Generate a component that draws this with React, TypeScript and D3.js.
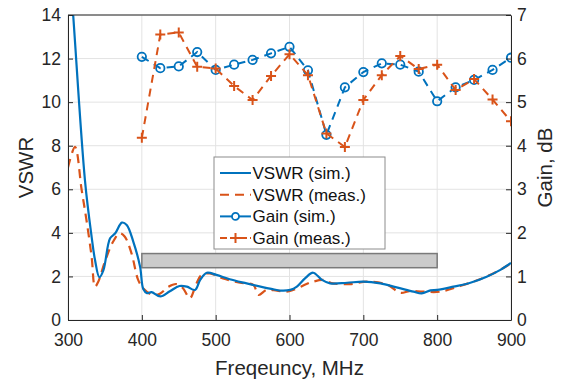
import React, { useEffect, useRef } from 'react';
import * as d3 from 'd3';

// VSWR (sim.)
const vswrSimFreq = [300, 307, 323, 332, 336.6, 342.5, 348, 357, 364, 373, 379.5, 388.5, 397.6, 402, 407, 413, 425, 438, 451, 461, 472, 479, 488, 501, 519, 542, 565, 578, 587, 601, 610, 621, 632, 644, 655, 678, 700, 723, 745, 768, 779, 791, 800, 822, 845, 867, 885, 900];
const vswrSimVal = [17.3, 14, 6.4, 3.82, 2.75, 1.96, 2.29, 3.75, 3.98, 4.47, 4.36, 3.59, 2.45, 1.42, 1.23, 1.28, 1.08, 1.32, 1.56, 1.53, 1.38, 1.84, 2.17, 2.07, 1.87, 1.68, 1.5, 1.41, 1.35, 1.38, 1.53, 1.91, 2.17, 1.84, 1.68, 1.71, 1.76, 1.68, 1.5, 1.3, 1.22, 1.36, 1.38, 1.53, 1.71, 1.99, 2.29, 2.62];

// VSWR (meas.)
const vswrMeasFreq = [300, 309.5, 318.5, 325, 332, 336.6, 341, 350, 361, 370, 377, 386, 395, 402, 415, 425, 436, 447, 456, 465, 474, 481, 492, 510, 533, 551, 558, 569, 583, 596, 610, 623, 632, 646, 659, 682, 705, 732, 750, 763, 781, 804, 831, 858, 881, 900];
const vswrMeasVal = [7.0, 7.95, 5.97, 4.59, 2.9, 1.53, 1.76, 2.68, 3.59, 3.98, 3.82, 3.06, 1.84, 1.45, 1.15, 1.22, 1.53, 1.65, 1.45, 1.0, 1.68, 2.07, 2.14, 1.91, 1.71, 1.61, 1.15, 1.38, 1.35, 1.3, 1.45, 1.65, 1.76, 1.84, 1.68, 1.65, 1.76, 1.63, 1.25, 1.33, 1.3, 1.3, 1.56, 1.87, 2.22, 2.6];

// Gain, dB
const gainFreq = [400, 425, 450, 475, 500, 525, 550, 575, 600, 625, 650, 675, 700, 725, 750, 775, 800, 825, 850, 875, 900];
const gainSim = [6.04, 5.78, 5.82, 6.15, 5.74, 5.86, 5.97, 6.12, 6.27, 5.73, 4.25, 5.34, 5.69, 5.89, 5.86, 5.70, 5.02, 5.34, 5.51, 5.74, 6.02];
const gainMeas = [4.18, 6.55, 6.6, 5.81, 5.77, 5.37, 5.05, 5.6, 6.1, 5.62, 4.28, 3.97, 5.05, 5.62, 6.06, 5.76, 5.86, 5.28, 5.53, 5.06, 4.56];

// grey band (frequency span, VSWR span)
const bandFreq = [400, 800];
const bandVswr = [2.4, 3.05];

const xTicks = [300, 400, 500, 600, 700, 800, 900];
const yLeftTicks = [0, 2, 4, 6, 8, 10, 12, 14];
const yRightTicks = [0, 1, 2, 3, 4, 5, 6, 7];

const legendLabels = ['VSWR (sim.)', 'VSWR (meas.)', 'Gain (sim.)', 'Gain (meas.)'];

const BLUE = '#0072BD';
const ORANGE = '#D95319';
const FONT = '"Liberation Sans", Arial, Helvetica, sans-serif';

const App: React.FC = () => {
    const svgRef = useRef<SVGSVGElement>(null);
    const W = 564, H = 381;
    const margin = { top: 15, right: 53, bottom: 61, left: 68 };

    useEffect(() => {
        if (!svgRef.current) return;
        const svg = d3.select(svgRef.current);
        svg.selectAll('*').remove();

        const width = W - margin.left - margin.right;
        const height = H - margin.top - margin.bottom;

        const x = d3.scaleLinear().domain([300, 900]).range([0, width]);
        const yL = d3.scaleLinear().domain([0, 14]).range([height, 0]);
        const yR = d3.scaleLinear().domain([0, 7]).range([height, 0]);

        svg.append('rect').attr('width', W).attr('height', H).attr('fill', '#fff');

        svg.append('defs').append('clipPath').attr('id', 'plotClip')
            .append('rect').attr('width', width).attr('height', height);

        const g = svg.append('g').attr('transform', `translate(${margin.left},${margin.top})`);

        // grid
        const grid = g.append('g').attr('stroke', '#e3e3e3').attr('stroke-width', 1);
        xTicks.forEach(t => grid.append('line').attr('x1', x(t)).attr('x2', x(t)).attr('y1', 0).attr('y2', height));
        yLeftTicks.forEach(t => grid.append('line').attr('x1', 0).attr('x2', width).attr('y1', yL(t)).attr('y2', yL(t)));

        const plot = g.append('g').attr('clip-path', 'url(#plotClip)');

        // band
        plot.append('rect')
            .attr('x', x(bandFreq[0]))
            .attr('width', x(bandFreq[1]) - x(bandFreq[0]))
            .attr('y', yL(bandVswr[1]))
            .attr('height', yL(bandVswr[0]) - yL(bandVswr[1]))
            .attr('fill', '#cbcbcb')
            .attr('stroke', '#7a7a7a')
            .attr('stroke-width', 1.5);

        const smooth = d3.line<[number, number]>()
            .x(d => x(d[0]))
            .y(d => yL(d[1]))
            .curve(d3.curveCatmullRom.alpha(0.5));

        const simPts = vswrSimFreq.map((f, i) => [f, vswrSimVal[i]] as [number, number]);
        const measPts = vswrMeasFreq.map((f, i) => [f, vswrMeasVal[i]] as [number, number]);

        plot.append('path').attr('d', smooth(measPts)!)
            .attr('fill', 'none').attr('stroke', ORANGE).attr('stroke-width', 2.2)
            .attr('stroke-dasharray', '9,6');
        plot.append('path').attr('d', smooth(simPts)!)
            .attr('fill', 'none').attr('stroke', BLUE).attr('stroke-width', 2.2);

        // gain lines
        const gainLine = d3.line<[number, number]>().x(d => x(d[0])).y(d => yR(d[1]));
        const gSimPts = gainFreq.map((f, i) => [f, gainSim[i]] as [number, number]);
        const gMeasPts = gainFreq.map((f, i) => [f, gainMeas[i]] as [number, number]);

        plot.append('path').attr('d', gainLine(gSimPts)!)
            .attr('fill', 'none').attr('stroke', BLUE).attr('stroke-width', 2)
            .attr('stroke-dasharray', '8,6');
        plot.selectAll('circle.gs').data(gSimPts).enter().append('circle')
            .attr('cx', d => x(d[0])).attr('cy', d => yR(d[1])).attr('r', 4.2)
            .attr('fill', 'none').attr('stroke', BLUE).attr('stroke-width', 1.8);

        plot.append('path').attr('d', gainLine(gMeasPts)!)
            .attr('fill', 'none').attr('stroke', ORANGE).attr('stroke-width', 2)
            .attr('stroke-dasharray', '8,6');
        plot.selectAll('path.gm').data(gMeasPts).enter().append('path')
            .attr('d', d => {
                const cx = x(d[0]), cy = yR(d[1]);
                return `M${cx - 5},${cy}H${cx + 5}M${cx},${cy - 5}V${cy + 5}`;
            })
            .attr('stroke', ORANGE).attr('stroke-width', 2);

        // axes
        const styleAxis = (sel: d3.Selection<SVGGElement, unknown, null, undefined>) => {
            sel.selectAll('path').attr('stroke', '#262626');
            sel.selectAll('line').attr('stroke', '#262626');
            sel.selectAll('text').attr('fill', '#262626')
                .style('font-family', FONT).style('font-size', '17.5px');
        };

        g.append('g').attr('transform', `translate(0,${height})`)
            .call(d3.axisBottom(x).tickValues(xTicks).tickSize(-5).tickPadding(14).tickSizeOuter(0))
            .call(styleAxis);
        g.append('g')
            .call(d3.axisLeft(yL).tickValues(yLeftTicks).tickSize(-5).tickPadding(7).tickSizeOuter(0))
            .call(styleAxis);
        g.append('g').attr('transform', `translate(${width},0)`)
            .call(d3.axisRight(yR).tickValues(yRightTicks).tickFormat(d3.format('d')).tickSize(-5).tickPadding(6).tickSizeOuter(0))
            .call(styleAxis);
        g.append('line').attr('x1', 0).attr('x2', width).attr('y1', 0).attr('y2', 0)
            .attr('stroke', '#262626');

        // axis titles
        g.append('text').attr('x', width / 2).attr('y', height + 55)
            .attr('text-anchor', 'middle').attr('fill', '#262626')
            .style('font-family', FONT).style('font-size', '20.5px')
            .text('Freqeuncy, MHz');
        g.append('text').attr('transform', `translate(${-35},${height / 2}) rotate(-90)`)
            .attr('text-anchor', 'middle').attr('fill', '#262626')
            .style('font-family', FONT).style('font-size', '20.5px')
            .text('VSWR');
        g.append('text').attr('transform', `translate(${width + 41},${height / 2}) rotate(-90)`)
            .attr('text-anchor', 'middle').attr('fill', '#262626')
            .style('font-family', FONT).style('font-size', '20.5px')
            .text('Gain, dB');

        // legend
        const lg = svg.append('g').attr('transform', 'translate(214,157)');
        lg.append('rect').attr('width', 171).attr('height', 92)
            .attr('fill', '#fff').attr('stroke', '#8c8c8c').attr('stroke-width', 1);
        legendLabels.forEach((label, i) => {
            const cy = 16 + i * 21.7;
            const row = lg.append('g').attr('transform', `translate(0,${cy})`);
            const color = i % 2 === 0 ? BLUE : ORANGE;
            const ln = row.append('line').attr('x1', 6).attr('x2', 37).attr('y1', 0).attr('y2', 0)
                .attr('stroke', color).attr('stroke-width', 2);
            if (i === 1) ln.attr('stroke-dasharray', '9,6');
            if (i === 2) row.append('circle').attr('cx', 21.5).attr('cy', 0).attr('r', 3.5)
                .attr('fill', '#fff').attr('stroke', BLUE).attr('stroke-width', 1.8);
            if (i === 3) {
                ln.attr('stroke-dasharray', '7,3');
                row.append('path').attr('d', 'M16.5,0H26.5M21.5,-5V5')
                    .attr('stroke', ORANGE).attr('stroke-width', 2);
            }
            row.append('text').attr('x', 38.5).attr('y', 6)
                .attr('fill', '#111').style('font-family', FONT).style('font-size', '17px')
                .text(label);
        });
    }, []);

    return (
        <div style={{ position: 'fixed', left: 0, top: 0 }}>
            <svg ref={svgRef} width={W} height={H} style={{ display: 'block' }} />
        </div>
    );
};

export default App;
